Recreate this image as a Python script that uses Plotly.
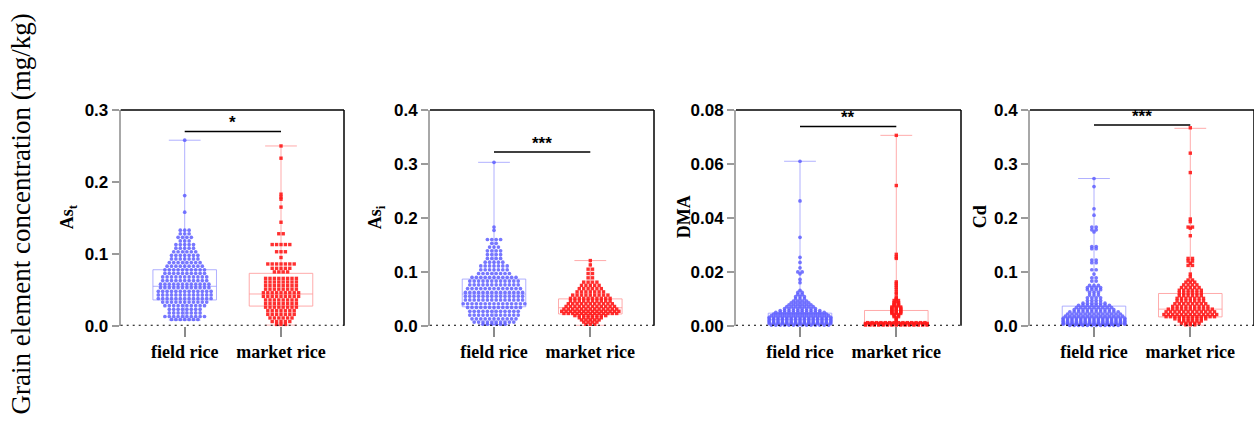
import plotly.graph_objects as go

# ---------------- data ----------------
categories = ["field rice", "market rice"]
panel_titles = ["As<sub>t</sub>", "As<sub>i</sub>", "DMA", "Cd"]
y_max = [0.3, 0.4, 0.08, 0.4]
y_dtick = [0.1, 0.1, 0.02, 0.1]
y_format = [".1f", ".1f", ".2f", ".1f"]
significance = ["*", "***", "**", "***"]
sig_bar_y = [0.270, 0.322, 0.0739, 0.372]

# box statistics per panel: [field, market]
box_lower = [[0.008, 0.001], [0.002, 0.001], [0.0002, 0.0001], [0.0005, 0.001]]
box_q1 = [[0.036, 0.0275], [0.0354, 0.022], [0.0011, 0.0005], [0.0055, 0.0166]]
box_median = [[0.055, 0.0443], [0.059, 0.0336], [0.0024, 0.0011], [0.0166, 0.031]]
box_q3 = [[0.078, 0.073], [0.0867, 0.050], [0.0047, 0.0057], [0.0366, 0.060]]
box_upper = [[0.258, 0.250], [0.303, 0.121], [0.061, 0.0706], [0.273, 0.366]]

# swarm rows: value levels and number of samples at each level
ast_field_vals = [0.258, 0.181, 0.158, 0.133, 0.128, 0.123, 0.118, 0.113, 0.108, 0.103, 0.098, 0.093,
                  0.088, 0.083, 0.078, 0.073, 0.068, 0.063, 0.058, 0.053, 0.048, 0.043, 0.038, 0.033,
                  0.028, 0.023, 0.018, 0.013, 0.009]
ast_field_counts = [1, 1, 1, 3, 3, 4, 3, 5, 5, 6, 7, 7, 8, 9, 10, 10, 11, 11, 12, 12, 13, 13, 13, 11,
                    10, 8, 8, 10, 7]
ast_market_vals = [0.25, 0.233, 0.183, 0.179, 0.176, 0.165, 0.144, 0.128, 0.113, 0.103, 0.095, 0.086,
                   0.080, 0.075, 0.066, 0.061, 0.056, 0.051, 0.046, 0.041, 0.036, 0.031, 0.026, 0.021,
                   0.016, 0.011, 0.006, 0.002]
ast_market_counts = [1, 1, 1, 1, 1, 1, 1, 2, 5, 3, 1, 7, 5, 4, 8, 8, 8, 8, 9, 9, 8, 8, 8, 7, 7, 6, 5, 3]

asi_field_vals = [0.303, 0.183, 0.177, 0.160, 0.153, 0.146, 0.139, 0.132, 0.125, 0.118, 0.111, 0.104,
                  0.097, 0.090, 0.083, 0.076, 0.069, 0.062, 0.055, 0.048, 0.041, 0.034, 0.027, 0.020,
                  0.013, 0.007, 0.003]
asi_field_counts = [1, 1, 1, 4, 2, 3, 4, 4, 4, 5, 7, 7, 8, 11, 12, 12, 13, 14, 14, 14, 15, 13, 12, 12,
                    11, 10, 6]
asi_market_vals = [0.121, 0.113, 0.105, 0.097, 0.089, 0.081, 0.075, 0.069, 0.063, 0.057, 0.051, 0.046,
                   0.041, 0.036, 0.031, 0.027, 0.023, 0.019, 0.015, 0.011, 0.007, 0.003]
asi_market_counts = [1, 1, 2, 2, 2, 4, 5, 6, 7, 9, 10, 10, 11, 12, 13, 14, 13, 8, 6, 5, 4, 3]

dma_field_vals = [0.061, 0.0463, 0.0328, 0.0254, 0.0235, 0.0215, 0.0200, 0.0193, 0.0172, 0.0160,
                  0.0132, 0.0124, 0.0116, 0.0108, 0.0100, 0.0092, 0.0085, 0.0078, 0.0071, 0.0064,
                  0.0057, 0.0050, 0.0044, 0.0038, 0.0032, 0.0026, 0.0020, 0.0014, 0.0008, 0.0003]
dma_field_counts = [1, 1, 1, 1, 1, 1, 2, 1, 1, 1,
                    1, 2, 2, 3, 3, 4, 5, 6, 7, 8,
                    10, 12, 13, 14, 15, 15, 15, 15, 15, 14]
dma_market_vals = [0.0706, 0.052, 0.0265, 0.0255, 0.0250, 0.0163, 0.0157, 0.0150, 0.0143, 0.0135,
                   0.0125, 0.0118, 0.0106, 0.0102, 0.0098, 0.0094, 0.0090, 0.0086, 0.0082, 0.0078,
                   0.0074, 0.0070, 0.0066, 0.0062, 0.0058, 0.0054, 0.0050, 0.0046, 0.0042, 0.0038,
                   0.0034, 0.0030, 0.0026, 0.0022, 0.0018, 0.0012, 0.0009, 0.0006, 0.0003]
dma_market_counts = [1, 1, 1, 1, 1, 1, 1, 1, 1, 1,
                     1, 1, 1, 1, 1, 2, 1, 2, 2, 2,
                     2, 3, 3, 3, 3, 3, 3, 3, 2, 2,
                     2, 1, 1, 1, 1, 14, 15, 15, 15]

cd_field_vals = [0.273, 0.258, 0.217, 0.205, 0.183, 0.178, 0.174, 0.147, 0.143, 0.122,
                 0.117, 0.104, 0.096, 0.089, 0.083, 0.075, 0.071, 0.067, 0.062, 0.057,
                 0.052, 0.047, 0.042, 0.038, 0.034, 0.030, 0.026, 0.022, 0.018, 0.014,
                 0.011, 0.008, 0.005, 0.003, 0.001]
cd_field_counts = [1, 1, 1, 1, 2, 2, 1, 2, 2, 2,
                   2, 2, 1, 2, 2, 3, 4, 4, 3, 3,
                   4, 4, 6, 8, 9, 10, 12, 13, 14, 15,
                   15, 15, 15, 15, 12]
cd_market_vals = [0.367, 0.320, 0.284, 0.198, 0.193, 0.183, 0.181, 0.167, 0.125, 0.120,
                  0.116, 0.112, 0.096, 0.091, 0.085, 0.081, 0.076, 0.071, 0.066, 0.061,
                  0.056, 0.051, 0.046, 0.041, 0.036, 0.031, 0.026, 0.021, 0.017, 0.013,
                  0.009, 0.005, 0.002]
cd_market_counts = [1, 1, 1, 1, 1, 2, 1, 1, 2, 2,
                    1, 2, 1, 1, 2, 3, 4, 5, 6, 6,
                    6, 7, 7, 8, 9, 11, 12, 13, 12, 8,
                    6, 5, 3]

swarm_data = [
    [(ast_field_vals, ast_field_counts), (ast_market_vals, ast_market_counts)],
    [(asi_field_vals, asi_field_counts), (asi_market_vals, asi_market_counts)],
    [(dma_field_vals, dma_field_counts), (dma_market_vals, dma_market_counts)],
    [(cd_field_vals, cd_field_counts), (cd_market_vals, cd_market_counts)],
]

# ---------------- style / layout ----------------
W, H = 1254, 425
panel_left_px = [120.7, 430, 736, 1030]
panel_right_px = [344, 654, 961, 1254]
plot_top_px, plot_bottom_px = 105.7, 331.7
px_per_unit = 96.3
title_x_px = [68, 376, 684, 980]

point_colors = ["rgba(95,95,255,0.85)", "rgba(255,25,25,0.9)"]
box_colors = ["rgba(150,150,255,0.75)", "rgba(255,150,150,0.8)"]
symbols = ["circle", "square"]
sizes = [3.7, 3.4]
dx = 4.4 / px_per_unit

SANS = "Liberation Sans"
SERIF = "Liberation Serif"


def fx(px):
    return px / W


def fy(px):
    return 1 - px / H


def swarm(vals, counts, center):
    xs, ys = [], []
    for v, n in zip(vals, counts):
        for k in range(n):
            xs.append(center + (k - (n - 1) / 2) * dx)
            ys.append(v)
    return xs, ys


fig = go.Figure()
shapes, annotations = [], []
ydom = [fy(plot_bottom_px), fy(plot_top_px)]

for p in range(4):
    ax = "" if p == 0 else str(p + 1)
    xref, yref = "x" + ax, "y" + ax
    for c in range(2):
        fig.add_trace(go.Box(
            x=[c], q1=[box_q1[p][c]], median=[box_median[p][c]], q3=[box_q3[p][c]],
            lowerfence=[box_lower[p][c]], upperfence=[box_upper[p][c]],
            width=0.66, whiskerwidth=0.5, boxpoints=False,
            line=dict(color=box_colors[c], width=1), fillcolor="rgba(0,0,0,0)",
            xaxis=xref, yaxis=yref, showlegend=False, hoverinfo="skip"))
    for c in range(2):
        vals, counts = swarm_data[p][c]
        xs, ys = swarm(vals, counts, c)
        fig.add_trace(go.Scatter(
            x=xs, y=ys, mode="markers", cliponaxis=False,
            marker=dict(symbol=symbols[c], size=sizes[c], color=point_colors[c], line=dict(width=0)),
            xaxis=xref, yaxis=yref, showlegend=False, hoverinfo="skip"))

    l, r = panel_left_px[p], panel_right_px[p]
    d0, d1 = fx(l), min(fx(r), 1.0)
    width_px = (d1 - d0) * W
    x0 = -(64.0 / px_per_unit)
    x1 = x0 + width_px / px_per_unit
    fig.layout["xaxis" + ax] = dict(
        domain=[d0, d1], anchor=yref, range=[x0, x1],
        tickvals=[0, 1], ticktext=["<b>" + t + "</b>" for t in categories],
        tickfont=dict(family=SERIF, size=18, color="black"),
        ticks="outside", ticklen=10, tickwidth=1.5, tickcolor="#8a8a8a",
        showline=False, showgrid=False, zeroline=False, fixedrange=True)
    fig.layout["yaxis" + ax] = dict(
        domain=ydom, anchor=xref, range=[0, y_max[p]], dtick=y_dtick[p], tick0=0,
        tickformat=y_format[p], tickfont=dict(family=SANS, size=17, color="black", weight="bold"),
        ticks="outside", ticklen=7, tickwidth=2, tickcolor="#9a9a9a",
        showline=True, linecolor="#a8a8a8", linewidth=2,
        showgrid=False, zeroline=False, fixedrange=True)

    # frame: top and right lines, dotted baseline
    shapes.append(dict(type="line", xref=xref + " domain", yref=yref + " domain",
                       x0=0, x1=1, y0=1, y1=1, line=dict(color="black", width=1.5)))
    shapes.append(dict(type="line", xref=xref + " domain", yref=yref + " domain",
                       x0=1, x1=1, y0=0, y1=1, line=dict(color="black", width=1.5)))
    shapes.append(dict(type="line", xref=xref + " domain", yref=yref,
                       x0=0, x1=1, y0=0, y1=0, line=dict(color="black", width=2, dash="2px,4px")))
    # significance bar
    shapes.append(dict(type="line", xref=xref, yref=yref, x0=0, x1=1,
                       y0=sig_bar_y[p], y1=sig_bar_y[p], line=dict(color="black", width=1.5)))
    annotations.append(dict(xref=xref, yref=yref, x=0.5, y=sig_bar_y[p], text="<b>" + significance[p] + "</b>",
                            showarrow=False, yanchor="middle", yshift=9,
                            font=dict(family=SANS, size=17, color="black")))
    # panel y title
    annotations.append(dict(xref="paper", yref="paper", x=fx(title_x_px[p]), y=fy(218),
                            text="<b>" + panel_titles[p] + "</b>", textangle=-90, showarrow=False,
                            xanchor="center", yanchor="middle",
                            font=dict(family=SERIF, size=18, color="black")))

annotations.append(dict(xref="paper", yref="paper", x=fx(21), y=fy(215),
                        text="Grain element concentration (mg/kg)", textangle=-90, showarrow=False,
                        xanchor="center", yanchor="middle",
                        font=dict(family=SERIF, size=27, color="black")))

fig.update_layout(
    width=W, height=H, margin=dict(l=0, r=0, t=0, b=0),
    paper_bgcolor="white", plot_bgcolor="white",
    shapes=shapes, annotations=annotations, showlegend=False,
)

fig.write_html("out.html", include_plotlyjs=True, config={"displayModeBar": False},
               post_script="document.body.style.margin='0';document.body.style.overflow='hidden';")
